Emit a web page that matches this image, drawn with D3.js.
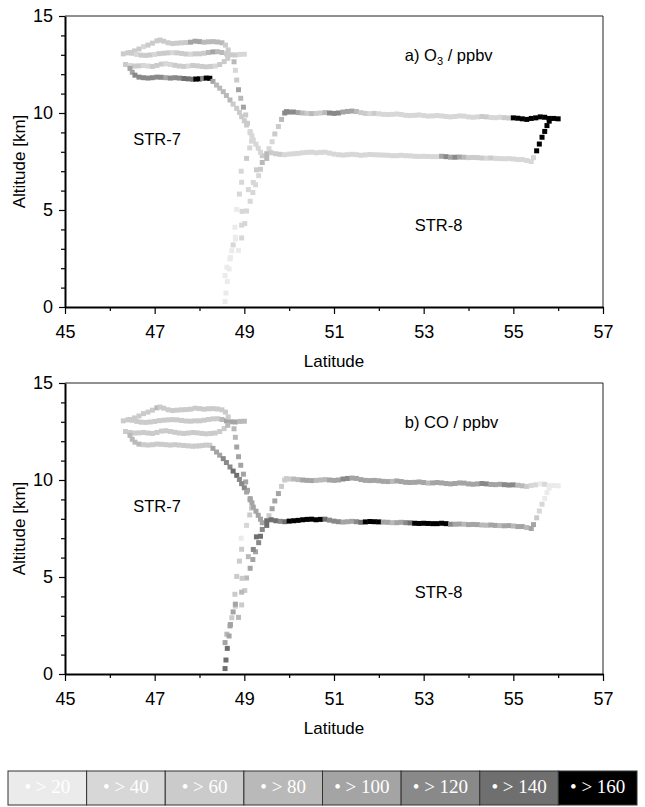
<!DOCTYPE html>
<html>
<head>
<meta charset="utf-8">
<script src="https://cdn.jsdelivr.net/npm/d3@7"></script>
<style>
  body { margin: 0; background: #fff; }
  svg { display: block; }
</style>
</head>
<body>
<svg id="chart" width="645" height="807"></svg>
<script>
// Flight track samples: [latitude, altitude km, O3 ppbv, CO ppbv]

// STR-7, upper stacked legs (west of 49 N)
const s7Leg1 = [
  [46.45,13.12,62,72],[46.55,13.2,65,68],[46.65,13.3,62,70],[46.75,13.42,55,66],
  [46.85,13.5,62,72],[46.95,13.6,65,70],[47.05,13.72,62,85],[47.12,13.76,66,75],
  [47.2,13.7,62,68],[47.3,13.62,65,70],[47.4,13.58,62,72],[47.5,13.6,66,70],
  [47.6,13.62,62,68],[47.7,13.63,72,72],[47.8,13.65,105,70],[47.9,13.7,108,74],
  [48.0,13.68,103,70],[48.1,13.65,92,68],[48.2,13.67,88,72],[48.3,13.68,85,70],
  [48.4,13.66,92,72],[48.5,13.62,86,75],[48.58,13.5,72,78]
];
const s7Leg2 = [
  [46.3,13.05,62,70],[46.4,13.1,65,72],[46.5,13.08,62,68],[46.6,13.02,58,70],
  [46.7,12.98,62,72],[46.8,12.97,65,70],[46.9,12.99,62,68],[47.0,13.02,58,72],
  [47.1,13.06,62,70],[47.2,13.08,65,72],[47.3,13.1,62,68],[47.4,13.11,58,70],
  [47.5,13.1,62,72],[47.6,13.07,65,70],[47.7,13.04,62,74],[47.8,13.03,58,70],
  [47.9,13.05,62,72],[48.0,13.05,65,70],[48.1,13.08,72,68],[48.2,13.12,92,72],
  [48.3,13.15,104,70],[48.4,13.16,98,75],[48.5,13.12,88,85],[48.6,13.05,72,104],
  [48.7,13.0,65,108],[48.8,12.99,62,104],[48.9,13.02,58,96],[49.0,13.03,55,92]
];
const s7Leg3 = [
  [46.35,12.5,62,70],[46.45,12.45,58,72],[46.55,12.42,62,68],[46.65,12.43,65,70],
  [46.75,12.45,58,72],[46.85,12.42,55,70],[46.95,12.4,62,68],[47.05,12.45,65,70],
  [47.15,12.52,62,72],[47.25,12.54,58,70],[47.35,12.5,55,68],[47.45,12.46,62,70],
  [47.55,12.42,65,72],[47.65,12.4,62,70],[47.75,12.42,58,68],[47.85,12.45,62,72],
  [47.95,12.43,65,70],[48.05,12.4,62,74],[48.15,12.38,68,72],[48.25,12.4,62,70],
  [48.35,12.42,58,72],[48.45,12.5,62,75],[48.55,12.65,72,78],[48.63,12.82,78,82]
];
const s7Leg4 = [
  [46.45,12.3,105,92],[46.5,12.1,112,96],[46.56,11.95,125,88],[46.65,11.85,132,84],
  [46.75,11.82,122,72],[46.85,11.8,126,66],[46.95,11.82,124,66],[47.05,11.85,132,64],
  [47.15,11.84,122,66],[47.25,11.82,115,64],[47.35,11.8,126,66],[47.45,11.82,132,64],
  [47.55,11.8,136,66],[47.65,11.78,145,66],[47.75,11.76,152,64],[47.85,11.74,146,66],
  [47.92,11.75,172,64],[48.0,11.76,166,66],[48.07,11.78,126,64],[48.15,11.8,172,66],
  [48.23,11.79,170,72]
];
// STR-7 slanted descent from the 11.8 km leg
const s7Diag = [
  [48.3,11.63,105,102],[48.38,11.44,98,106],[48.45,11.28,95,112],[48.53,11.1,90,125],
  [48.6,10.9,86,128],[48.68,10.67,85,132],[48.75,10.46,78,145],[48.83,10.24,72,146],
  [48.89,10.03,68,132],[48.94,9.81,65,126],[49.0,9.6,63,122],[49.05,9.38,62,116],
  [49.13,9.04,55,112],[49.17,8.82,52,105],[49.2,8.6,50,102],[49.26,8.39,46,104],
  [49.31,8.18,45,106],[49.36,7.98,50,110]
];
// STR-7 steep profile between the ground and 13 km
const s7Dots = [
  [48.64,13.25,65,65],[48.77,12.64,85,85],[48.8,12.2,50,90],[48.83,11.7,65,102],
  [48.87,11.2,110,105],[48.92,10.76,90,110],[48.98,10.3,104,115],[49.03,9.9,65,105],
  [49.07,9.47,62,110],[49.13,8.98,50,102],[49.16,8.55,50,75],[49.12,8.2,45,65],
  [49.05,7.66,62,45],[48.93,7.0,45,32],[48.94,6.43,42,65],[48.89,5.82,45,70],
  [48.83,5.03,35,65],[48.79,4.11,32,70],[48.8,3.5,35,62],[48.72,2.9,32,65],
  [48.68,2.48,35,102],[48.61,2.05,32,92],[48.57,1.62,32,110]
];
const s7Low = [
  [48.87,2.92,35,95],[48.94,3.56,42,70],[49.01,4.3,42,75],[49.05,4.95,45,85],
  [49.13,5.45,45,105],[49.19,5.9,50,110],[49.25,6.3,45,110],[49.32,6.77,55,125],
  [49.36,7.1,62,145],[49.4,7.8,72,110]
];
// STR-8 climb from the ground to the 8 km leg
const s8Climb = [
  [48.57,0.28,30,145],[48.59,0.72,30,145],[48.62,1.32,35,145],[48.66,1.96,32,115],
  [48.69,2.55,35,102],[48.75,3.2,42,110],[48.8,3.6,35,102],[48.94,4.22,45,85],
  [48.95,4.93,45,72],[49.09,6.05,50,95],[49.2,6.42,55,125],[49.27,7.07,62,145],
  [49.4,7.45,82,122],[49.5,7.66,86,145]
];
// STR-8 northbound leg near 8 km
const s8Lower = [
  [49.5,7.9,86,146],[49.6,7.95,72,152],[49.7,7.9,66,146],[49.8,7.87,63,132],
  [49.9,7.85,55,156],[50.0,7.88,50,166],[50.1,7.9,46,172],[50.2,7.92,52,170],
  [50.3,7.95,55,168],[50.4,7.97,50,172],[50.5,7.98,46,170],[50.6,7.95,52,168],
  [50.7,7.97,55,165],[50.8,7.98,50,146],[50.9,7.93,46,132],[51.0,7.88,50,126],
  [51.1,7.85,52,124],[51.2,7.83,48,112],[51.3,7.85,52,105],[51.4,7.87,46,110],
  [51.5,7.85,50,122],[51.6,7.82,52,142],[51.7,7.84,48,166],[51.8,7.86,50,172],
  [51.9,7.85,46,170],[52.0,7.84,52,164],[52.1,7.83,50,106],[52.2,7.82,48,102],
  [52.3,7.8,52,96],[52.4,7.8,46,104],[52.5,7.82,50,106],[52.6,7.8,52,122],
  [52.7,7.79,48,146],[52.8,7.77,50,166],[52.9,7.76,46,172],[53.0,7.77,52,170],
  [53.1,7.76,50,175],[53.2,7.75,48,170],[53.3,7.75,52,168],[53.4,7.77,105,172],
  [53.5,7.75,126,164],[53.6,7.72,112,126],[53.7,7.72,122,106],[53.8,7.73,106,104],
  [53.9,7.72,92,96],[54.0,7.7,76,102],[54.1,7.71,66,106],[54.2,7.7,72,104],
  [54.3,7.68,63,96],[54.4,7.67,55,92],[54.5,7.68,64,102],[54.6,7.66,52,104],
  [54.7,7.65,46,98],[54.8,7.64,42,102],[54.9,7.65,44,104],[55.0,7.63,42,96],
  [55.1,7.6,46,102],[55.2,7.6,45,104],[55.3,7.55,44,98],[55.4,7.5,52,104]
];
// STR-8 climb at the northern turn
const s8Rise = [
  [55.45,7.7,46,104],[55.52,8.05,172,72],[55.58,8.4,172,46],[55.64,8.75,175,46],
  [55.7,9.05,170,32],[55.75,9.35,170,32],[55.8,9.58,165,36]
];
// STR-8 southbound leg near 10 km
const s8Upper = [
  [49.9,10.0,125,70],[50.0,10.05,130,70],[50.1,10.05,125,85],[50.2,10.02,110,90],
  [50.3,10.0,90,105],[50.4,9.98,75,105],[50.5,9.97,85,110],[50.6,9.98,70,95],
  [50.7,10.0,75,90],[50.8,10.02,90,95],[50.9,10.0,125,102],[51.0,9.98,135,105],
  [51.1,10.0,122,110],[51.2,10.05,105,125],[51.3,10.08,110,125],[51.4,10.1,115,110],
  [51.5,10.08,85,105],[51.6,10.02,65,110],[51.7,9.98,62,105],[51.8,9.97,55,102],
  [51.9,9.98,62,105],[52.0,9.96,50,110],[52.1,9.93,55,105],[52.2,9.92,50,102],
  [52.3,9.93,45,95],[52.4,9.95,50,105],[52.5,9.92,55,110],[52.6,9.88,50,105],
  [52.7,9.87,45,102],[52.8,9.88,50,105],[52.9,9.9,55,110],[53.0,9.87,50,105],
  [53.1,9.84,50,95],[53.2,9.85,55,105],[53.3,9.87,50,110],[53.4,9.85,45,105],
  [53.5,9.82,50,102],[53.6,9.8,55,105],[53.7,9.82,50,110],[53.8,9.85,50,118],
  [53.9,9.84,55,105],[54.0,9.8,50,102],[54.1,9.78,45,105],[54.2,9.8,50,110],
  [54.3,9.82,62,125],[54.4,9.8,65,122],[54.5,9.77,55,105],[54.6,9.76,50,102],
  [54.7,9.78,55,110],[54.8,9.76,62,125],[54.9,9.74,70,130],[55.0,9.75,165,125],
  [55.1,9.73,170,95],[55.2,9.7,175,85],[55.3,9.67,170,70],[55.4,9.72,165,50],
  [55.5,9.75,170,45],[55.6,9.8,175,35],[55.7,9.78,170,42],[55.8,9.72,170,32],
  [55.9,9.72,165,35],[56.0,9.7,170,32]
];
// STR-8 descent from the 10 km leg
const s8Desc = [
  [49.94,10.07,125,72],[49.83,9.67,86,76],[49.76,9.3,72,104],[49.68,8.92,64,106],
  [49.62,8.52,52,102],[49.55,8.16,46,76]
];

// Axis ticks
const latMajor = [45, 47, 49, 51, 53, 55, 57];
const latMinor = [46, 48, 50, 52, 54, 56];
const altMajor = [0, 5, 10, 15];
const altMinor = [1, 2, 3, 4, 6, 7, 8, 9, 11, 12, 13, 14];

// Concentration classes
const binLabels = ["> 20", "> 40", "> 60", "> 80", "> 100", "> 120", "> 140", "> 160"];
const binLimits = [40, 60, 80, 100, 120, 140, 160];
const binColors = ["#ebebeb", "#d7d7d7", "#cbcbcb", "#b9b9b9", "#a4a4a4", "#898989", "#6f6f6f", "#000000"];

const SANS = "'Liberation Sans', Arial, Helvetica, sans-serif";
const SERIF = "'Liberation Serif', 'Times New Roman', serif";

const tracks = [s7Leg1, s7Leg2, s7Leg3, s7Leg4, s7Dots, s7Low, s8Climb, s8Desc, s8Lower, s8Upper, s8Rise, s7Diag];
const points = tracks.flat();

const svg = d3.select("#chart");
svg.append("rect").attr("width", 645).attr("height", 807).attr("fill", "#fff");

const color = d3.scaleThreshold().domain(binLimits).range(binColors);
const x = d3.scaleLinear().domain([45, 57]).range([65, 603]);

const panels = [
  { top: 16, bottom: 307, col: 2, title: ["a) O", "3", " / ppbv"] },
  { top: 383, bottom: 674, col: 3, title: ["b) CO / ppbv", "", ""] }
];

panels.forEach(p => {
  const y = d3.scaleLinear().domain([0, 15]).range([p.bottom, p.top]);
  const g = svg.append("g");

  // frame: thin top and right edges
  g.append("path")
    .attr("d", `M${x(45)},${p.top}H${x(57)}V${p.bottom}`)
    .attr("fill", "none").attr("stroke", "#222").attr("stroke-width", 1);

  // track samples as small squares
  g.append("g").selectAll("rect").data(points).join("rect")
    .attr("x", d => x(d[0]) - 2.5)
    .attr("y", d => y(d[1]) - 2.5)
    .attr("width", 5).attr("height", 5)
    .attr("fill", d => color(d[p.col]));

  // x axis
  g.append("g").attr("transform", `translate(0,${p.bottom})`)
    .call(d3.axisBottom(x).tickValues(latMajor).tickSize(7).tickPadding(11)
      .tickSizeOuter(0).tickFormat(d3.format("d")));
  g.append("g").attr("transform", `translate(0,${p.bottom})`)
    .call(d3.axisBottom(x).tickValues(latMinor).tickSize(4).tickFormat(""))
    .call(a => a.select(".domain").remove());

  // y axis
  g.append("g").attr("transform", `translate(${x(45)},0)`)
    .call(d3.axisLeft(y).tickValues(altMajor).tickSize(6).tickPadding(6)
      .tickSizeOuter(0).tickFormat(d3.format("d")));
  g.append("g").attr("transform", `translate(${x(45)},0)`)
    .call(d3.axisLeft(y).tickValues(altMinor).tickSize(4).tickFormat(""))
    .call(a => a.select(".domain").remove());

  g.selectAll(".domain").attr("stroke", "#000").attr("stroke-width", 2);
  g.selectAll(".tick line").attr("stroke", "#000").attr("stroke-width", 1.2);
  g.selectAll(".tick text")
    .style("font-family", SANS).style("font-size", "18px").style("fill", "#000");

  // axis titles
  g.append("text").attr("x", (x(45) + x(57)) / 2).attr("y", p.bottom + 60)
    .attr("text-anchor", "middle")
    .style("font-family", SANS).style("font-size", "17px").text("Latitude");
  g.append("text")
    .attr("transform", `translate(25,${(p.top + p.bottom) / 2}) rotate(-90)`)
    .attr("text-anchor", "middle")
    .style("font-family", SANS).style("font-size", "17px").text("Altitude [km]");

  // panel annotations
  const t = g.append("text").attr("x", x(52.58)).attr("y", y(12.68))
    .style("font-family", SANS).style("font-size", "16.5px");
  t.append("tspan").text(p.title[0]);
  if (p.title[1]) {
    t.append("tspan").style("font-size", "11px").attr("dy", 4).text(p.title[1]);
    t.append("tspan").attr("dy", -4).text(p.title[2]);
  }
  g.append("text").attr("x", x(46.52)).attr("y", y(8.35))
    .style("font-family", SANS).style("font-size", "16.5px").text("STR-7");
  g.append("text").attr("x", x(52.8)).attr("y", y(3.92))
    .style("font-family", SANS).style("font-size", "16.5px").text("STR-8");
});

// class legend
const lg = svg.append("g").attr("transform", "translate(8,771)");
const bw = 629 / binLabels.length;
const cells = lg.selectAll("g").data(binLabels).join("g")
  .attr("transform", (d, i) => `translate(${i * bw},0)`);
cells.append("rect").attr("width", bw).attr("height", 34)
  .attr("fill", (d, i) => binColors[i])
  .attr("stroke", "#333").attr("stroke-width", 1);
cells.append("text").attr("x", bw / 2).attr("y", 22)
  .attr("text-anchor", "middle")
  .style("font-family", SERIF).style("font-size", "19px").style("fill", "#fff")
  .text(d => "\u2022 " + d);
</script>
</body>
</html>
